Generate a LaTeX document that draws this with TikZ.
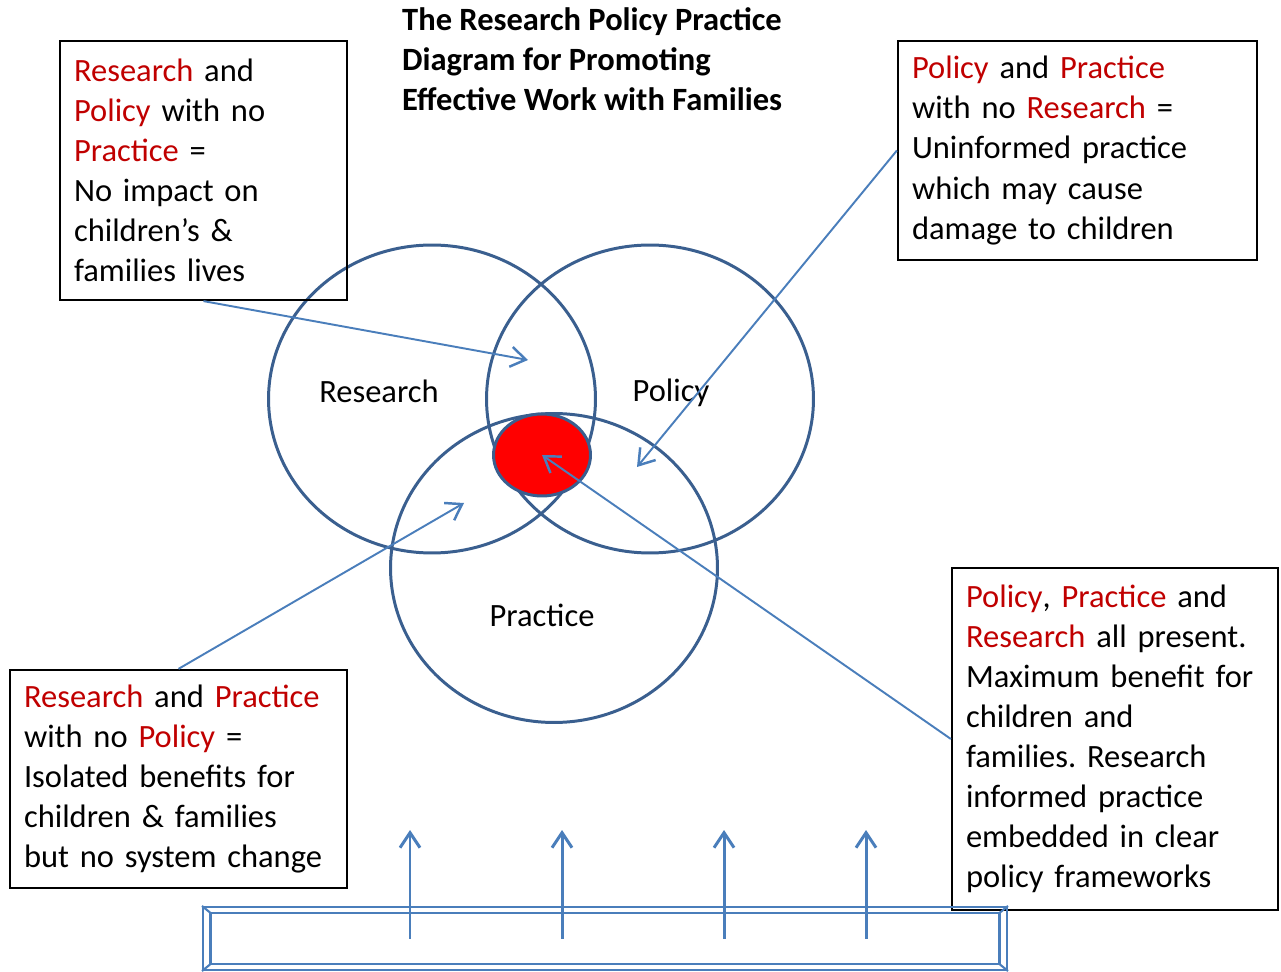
\documentclass[tikz,border=0pt]{standalone}
\usepackage{fontspec}
\setmainfont{Carlito}
\usetikzlibrary{positioning,shapes.geometric,arrows.meta}
\definecolor{vennblue}{HTML}{3A5F8F}
\definecolor{arrowblue}{HTML}{4A7EBB}
\definecolor{wordred}{HTML}{C00000}
\newcommand{\rd}[1]{\textcolor{wordred}{#1}}
\frenchspacing

\begin{document}
\begin{tikzpicture}[
  x=0.02cm, y=-0.02cm,
  font=\fontsize{18.5}{22.8}\selectfont,
  venn/.style={draw=vennblue,line width=1.7pt,ellipse,minimum width=6.54cm,minimum height=6.16cm},
  textbox/.style={draw,line width=1.3pt,align=left,inner xsep=0.28cm,inner ysep=0pt},
  pointer/.style={draw=arrowblue,line width=1.1pt,-{Straight Barb[length=3mm,width=4mm,line width=1.4pt]}},
  uparrow/.style={draw=arrowblue,line width=1.7pt,-{Straight Barb[length=3mm,width=4mm]}},
  bevelline/.style={draw=arrowblue,line width=1.2pt}
]
\useasboundingbox (0,0) rectangle (1281,972);

% title
\node[anchor=west,align=left,font=\fontsize{18.5}{22.8}\selectfont\bfseries] (title) at (396,59)
  {The Research Policy Practice\\Diagram for Promoting\\Effective Work with Families};

% venn circles
\node[venn] (research) at (432,399) {};
\node[venn] (policy) at (650,399) {};
\node[venn,minimum height=6.18cm] (practice) at (554,568) {};
\node[draw=vennblue,line width=1.7pt,fill=red,ellipse,minimum width=1.94cm,minimum height=1.64cm] (core) at (542,455) {};

\node (researchlbl) at (379,391) {Research};
\node (policylbl) at (671,393) {Policy};
\node (practicelbl) at (542,615) {Practice};

% text boxes
\node[textbox,text width=5.18cm,minimum height=5.18cm] (tl) at (203.5,170.5)
  {\rd{Research} and\\\rd{Policy} with no\\\rd{Practice} =\\No impact on\\children’s \&\\families lives};
\node[textbox,text width=6.62cm,minimum height=4.38cm] (tr) at (1077.5,150.5)
  {\rd{Policy} and \rd{Practice}\\with no \rd{Research} =\\Uninformed practice\\which may cause\\damage to children\\[-3pt]};
\node[textbox,text width=6.18cm,minimum height=4.36cm] (bl) at (178.5,779)
  {\rd{Research} and \rd{Practice}\\with no \rd{Policy} =\\Isolated benefits for\\children \& families\\but no system change};
\node[textbox,text width=5.96cm,minimum height=6.84cm] (br) at (1115,739)
  {\rd{Policy}, \rd{Practice} and\\\rd{Research} all present.\\Maximum benefit for\\children and\\families. Research\\informed practice\\embedded in clear\\policy frameworks};

% pointers into the circles
\coordinate (rpend) at (528,360);
\coordinate (ppend) at (637,467);
\coordinate (rcend) at (464,503);
\draw[pointer] (tl.south) -- (rpend);
\draw[pointer] (tr.west) -- (ppend);
\draw[pointer] (bl.north) -- (rcend);
\draw[pointer] (br.west) -- (core.center);

% base
\node[bevelline,minimum width=16.08cm,minimum height=1.26cm,inner sep=0pt] (base) at (605,938.5) {};
\draw[bevelline] ([shift={(0.17cm,-0.14cm)}]base.north west) coordinate (inw)
  rectangle ([shift={(-0.17cm,0.14cm)}]base.south east) coordinate (ise);
\draw[bevelline] (base.north west) -- (inw)
  (base.south east) -- (ise)
  (base.north east) -- (inw -| ise)
  (base.south west) -- (ise -| inw);
\foreach \x [count=\i] in {410,562,724,866} {
  \coordinate (up\i) at (\x,830);
  \draw[uparrow] (base.center -| up\i) -- (up\i);
}
\end{tikzpicture}
\end{document}
